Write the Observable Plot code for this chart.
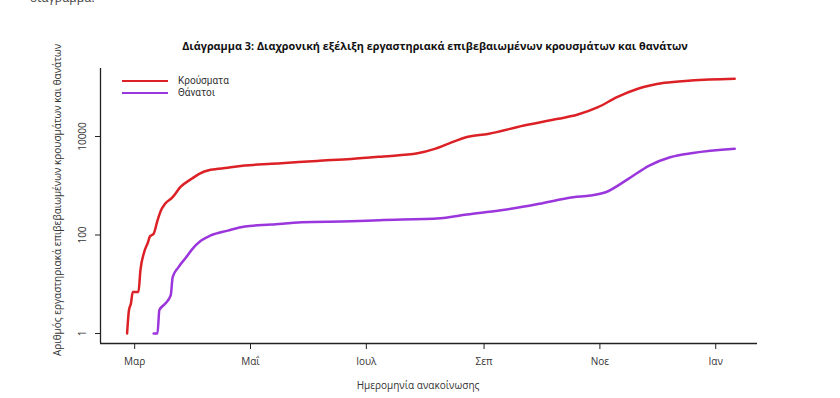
<!DOCTYPE html>
<html><head><meta charset="utf-8">
<script src="https://cdn.jsdelivr.net/npm/d3@7"></script>
<script src="https://cdn.jsdelivr.net/npm/@observablehq/plot@0.6"></script>
<style>
body{margin:0;background:#fff;}
#wrap{position:relative;width:840px;height:398px;overflow:hidden;font-family:"Open Sans",sans-serif;color:#333;background:#fff;}
#chart{position:absolute;left:0;top:0;}
#cut{position:absolute;left:30px;top:-9px;font-size:12px;line-height:14px;color:#444;}
#title{position:absolute;left:0;width:870px;top:38px;text-align:center;font-weight:bold;font-size:10.85px;color:#111;}
#ylab{position:absolute;left:57px;top:200px;transform:translate(-50%,-50%) rotate(-90deg);white-space:nowrap;font-size:10px;color:#333;}
#xlab{position:absolute;left:0;width:836px;top:378px;text-align:center;font-size:10px;color:#333;}
.leg{position:absolute;left:122px;font-family:Roboto,sans-serif;font-size:10px;color:#333;line-height:11px;}
.leg span.sw{display:inline-block;width:46px;height:2.5px;vertical-align:middle;margin-right:10px;}
</style></head><body>
<div id="wrap">
  <div id="chart"></div>
  <div id="cut">διάγραμμα.</div>
  <div id="title">Διάγραμμα 3: Διαχρονική εξέλιξη εργαστηριακά επιβεβαιωμένων κρουσμάτων και θανάτων</div>
  <div id="ylab">Αριθμός εργαστηριακά επιβεβαιωμένων κρουσμάτων και θανάτων</div>
  <div id="xlab">Ημερομηνία ανακοίνωσης</div>
  <div class="leg" style="top:74.5px"><span class="sw" style="background:#dc2126"></span>Κρούσματα</div>
  <div class="leg" style="top:86.5px"><span class="sw" style="background:#9a36dc"></span>Θάνατοι</div>
</div>
<script>
const caseDates = ["2020-02-26","2020-02-27","2020-02-28","2020-02-29","2020-03-03","2020-03-04","2020-03-06","2020-03-08","2020-03-09","2020-03-11","2020-03-13","2020-03-15","2020-03-17","2020-03-21","2020-03-25","2020-03-31","2020-04-04","2020-04-10","2020-04-19","2020-04-28","2020-05-12","2020-05-19","2020-06-05","2020-06-23","2020-07-10","2020-07-28","2020-08-06","2020-08-13","2020-08-23","2020-09-03","2020-09-22","2020-10-10","2020-10-20","2020-10-31","2020-11-10","2020-11-21","2020-12-05","2020-12-19","2021-01-11"];
const caseValues = [1,3,4,7,7,19,45,71,93,106,197,325,430,586,935,1384,1750,2109,2314,2577,2790,2900,3200,3500,3950,4550,5600,7100,9800,11300,16700,22900,27600,39350,62800,93000,123000,137000,148500];
const deathDates = ["2020-03-11","2020-03-13","2020-03-14","2020-03-17","2020-03-20","2020-03-21","2020-03-24","2020-03-28","2020-03-31","2020-04-05","2020-04-10","2020-04-19","2020-04-28","2020-05-12","2020-05-28","2020-06-23","2020-07-08","2020-08-09","2020-08-23","2020-09-09","2020-09-16","2020-09-30","2020-10-18","2020-10-27","2020-11-04","2020-11-16","2020-11-27","2020-12-08","2020-12-20","2021-01-11"];
const deathValues = [1,1,3,4,6,14,22,35,50,77,98,123,149,163,182,190,200,219,261,314,345,430,586,634,740,1384,2577,3800,4625,5625];
const yTicks = [1, 100, 10000];
const xTickDates = ["2020-03-01","2020-05-01","2020-07-01","2020-09-01","2020-11-01","2021-01-01"];
const xTickLabels = ["Μαρ","Μαΐ","Ιουλ","Σεπ","Νοε","Ιαν"];

const parse = d3.utcParse("%Y-%m-%d");
const cases = caseDates.map((d, i) => ({date: parse(d), value: caseValues[i]}));
const deaths = deathDates.map((d, i) => ({date: parse(d), value: deathValues[i]}));
const xTicks = xTickDates.map(parse);
const labelMap = new Map(xTicks.map((d, i) => [+d, xTickLabels[i]]));
const xDomain = [parse("2020-02-12"), parse("2021-01-23")];
const yDomain = [0.627, 240400];

const chart = Plot.plot({
  width: 840, height: 398,
  marginLeft: 100, marginRight: 83, marginTop: 68, marginBottom: 55,
  x: {type: "utc", domain: xDomain},
  y: {type: "log", domain: yDomain},
  style: {fontFamily: "Open Sans, sans-serif", fontSize: "10px", color: "#333", background: "transparent"},
  marks: [
    Plot.ruleY([yDomain[0]], {stroke: "#222", strokeWidth: 1.3}),
    Plot.ruleX([xDomain[0]], {stroke: "#222", strokeWidth: 1.3}),
    Plot.axisX({ticks: xTicks, tickSize: 6, tickPadding: 8, tickFormat: d => labelMap.get(+d), label: null, stroke: "#222"}),
    Plot.axisY({ticks: yTicks, tickSize: 5, tickFormat: () => "", label: null, stroke: "#222"}),
    Plot.text(yTicks, {x: xDomain[0], y: d => d, text: d => String(d), rotate: -90, dx: -18, fontSize: 10, fill: "#333"}),
    Plot.line(cases, {x: "date", y: "value", stroke: "#dc2126", strokeWidth: 2.5, curve: "monotone-x"}),
    Plot.line(deaths, {x: "date", y: "value", stroke: "#9a36dc", strokeWidth: 2.5, curve: "monotone-x"})
  ]
});
document.getElementById("chart").appendChild(chart);
</script>
</body></html>
